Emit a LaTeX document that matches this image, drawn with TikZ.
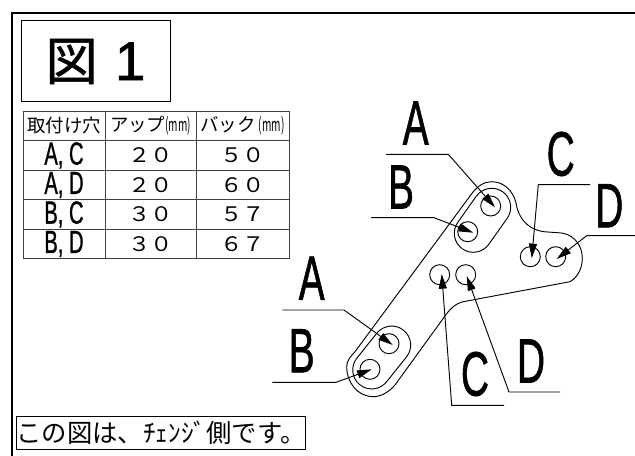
\documentclass[tikz,border=0pt]{standalone}
\usepackage{fontspec}
\usetikzlibrary{arrows.meta,shapes.misc}
\setmainfont{Liberation Sans}
\newfontfamily\jp{Noto Sans CJK JP}
\newfontfamily\jpf[FakeBold=1.2]{Noto Sans CJK JP}
\newfontfamily\lat{Liberation Sans}
\newfontfamily\latf[FakeBold=1.2]{Liberation Sans}
\newcommand{\narrow}[2]{\scalebox{#1}[1]{#2}}
\tikzset{
  x=0.75pt,y=-0.75pt,
  cell/.style={draw=black!75,line width=0.75pt,inner sep=0,minimum height=22.2pt,anchor=center},
  cola/.style={cell,minimum width=61.5pt},
  colb/.style={cell,minimum width=68.25pt},
  colc/.style={cell,minimum width=69.75pt},
  head/.style={font=\jp\fontsize{13.8pt}{14pt}\selectfont},
  pair/.style={font=\latf\fontsize{24pt}{26pt}\selectfont},
  num/.style={font=\jp\fontsize{15pt}{16pt}\selectfont},
  biglet/.style={inner sep=0,font=\latf\fontsize{47pt}{48pt}\selectfont},
  hole/.style={draw,circle,line width=0.7pt,minimum size=15pt,inner sep=0},
  part/.style={line width=0.7pt},
  slot/.style={draw,rounded rectangle,line width=0.7pt,minimum width=52.4pt,minimum height=28.5pt,inner sep=0},
  leader/.style={line width=0.7pt,-{Triangle[length=11pt,width=6pt]}},
}
\begin{document}
\begin{tikzpicture}
\useasboundingbox (0,0) rectangle (635,456);
\fill[white] (0,0) rectangle (635,456);
% frame
\coordinate (f1) at (635,13); \coordinate (f2) at (12,13); \coordinate (f3) at (12,456);
\draw[line width=1.5pt] (f1) -- (f2) -- (f3);
% title
\node[draw,line width=0.75pt,minimum width=111.75pt,minimum height=60.75pt,inner sep=0,
  font=\jpf\fontsize{39pt}{41pt}\selectfont] (title) at (95.5,61.5) {図\hspace{13pt}{\latf\fontsize{41pt}{41pt}\selectfont 1}\hspace{5pt}};
% table
\node[cola,head] (h1) at (64,126) {取付け穴};
\node[colb,head] (h2) at (150.5,126) {アップ\narrow{.55}{(mm)}};
\node[colc,head] (h3) at (242.5,126) {バック\,\narrow{.55}{(mm)}};
\node[cola,pair] (r1a) at (64,155.5) {\narrow{.63}{A, C}};
\node[colb,num] (r1b) at (150.5,155.5) {\narrow{1.12}{２０}};
\node[colc,num] (r1c) at (242.5,155.5) {\narrow{1.12}{５０}};
\node[cola,pair] (r2a) at (64,185) {\narrow{.63}{A, D}};
\node[colb,num] (r2b) at (150.5,185) {\narrow{1.12}{２０}};
\node[colc,num] (r2c) at (242.5,185) {\narrow{1.12}{６０}};
\node[cola,pair] (r3a) at (64,214.5) {\narrow{.63}{B, C}};
\node[colb,num] (r3b) at (150.5,214.5) {\narrow{1.12}{３０}};
\node[colc,num] (r3c) at (242.5,214.5) {\narrow{1.12}{５７}};
\node[cola,pair] (r4a) at (64,244) {\narrow{.63}{B, D}};
\node[colb,num] (r4b) at (150.5,244) {\narrow{1.12}{３０}};
\node[colc,num] (r4c) at (242.5,244) {\narrow{1.12}{６７}};
% note
\node[draw,line width=0.75pt,minimum width=216pt,minimum height=24.5pt,inner sep=0,
  font=\jp\fontsize{19pt}{20pt}\selectfont] (note) at (161,433) {この図は、ﾁｪﾝｼﾞ側です。};
% plate outline
\draw[part] (355,351.7) -- (470,196)
  .. controls (477,186) and (484,181.7) .. (491.7,181.7)
  .. controls (503,181.7) and (513,190) .. (516,203)
  .. controls (519,222) and (532,231.7) .. (548,232)
  .. controls (553,232.5) and (558,232.5) .. (563.3,233.3)
  .. controls (575,236) and (582.3,246) .. (582.3,258.3)
  .. controls (582.3,268) and (578,277) .. (570,281.7)
  -- (463.3,301.7)
  .. controls (455,303.5) and (449,310) .. (443.3,318.3)
  -- (395,385)
  .. controls (389,392) and (381,396.7) .. (373.3,396.7)
  .. controls (358,396.7) and (346.7,383) .. (346.7,366.7)
  .. controls (346.7,361) and (350,357) .. (355,351.7) -- cycle;
% slots
\node[slot,rotate=54.7] (slotu) at (482.5,220.3) {};
\node[slot,rotate=51.3] (slotl) at (381.7,357.5) {};
% holes
\node[hole] (ha) at (490.7,206) {};
\node[hole] (hb) at (467.7,231.7) {};
\node[hole] (hc) at (530.3,256.7) {};
\node[hole] (hd) at (555.7,256.7) {};
\node[hole] (lc) at (439.7,274.7) {};
\node[hole] (ld) at (465.7,274.7) {};
\node[hole] (la) at (389,343.7) {};
\node[hole] (lb) at (370,369.3) {};
% letters
\node[biglet] (ta) at (415.7,123) {\narrow{.62}{A}};
\node[biglet] (tb) at (401,187) {\narrow{.62}{B}};
\node[biglet] (tc) at (560.7,154) {\narrow{.62}{C}};
\node[biglet] (td) at (609.3,205.7) {\narrow{.62}{D}};
\node[biglet] (ma) at (311.7,278.3) {\narrow{.62}{A}};
\node[biglet] (mb) at (301.7,350.7) {\narrow{.62}{B}};
\node[biglet] (mc) at (475,374) {\narrow{.62}{C}};
\node[biglet] (md) at (531,361) {\narrow{.62}{D}};
% leaders
\coordinate (a0) at (386,154.3); \coordinate (a1) at (448.3,154.3); \coordinate (a2) at (495,207.3);
\coordinate (b0) at (371,217.7); \coordinate (b1) at (434,217.7); \coordinate (b2) at (473.3,232.7);
\coordinate (c0) at (590,184.7); \coordinate (c1) at (538.3,184.7); \coordinate (c2) at (531.7,258.3);
\coordinate (d0) at (635,235.7); \coordinate (d1) at (586.7,235.7); \coordinate (d2) at (556.7,259);
\coordinate (e0) at (282.3,310); \coordinate (e1) at (344,310); \coordinate (e2) at (392.7,345);
\coordinate (g0) at (272.3,382.3); \coordinate (g1) at (336,382.3); \coordinate (g2) at (371.7,369.3);
\coordinate (i0) at (504,405.3); \coordinate (i1) at (451.7,405.3); \coordinate (i2) at (441.7,274);
\coordinate (j0) at (560,392); \coordinate (j1) at (509,392); \coordinate (j2) at (466.7,276);
\draw[leader] (a0) -- (a1) -- (a2);
\draw[leader] (b0) -- (b1) -- (b2);
\draw[leader] (c0) -- (c1) -- (c2);
\draw[leader] (d0) -- (d1) -- (d2);
\draw[leader] (e0) -- (e1) -- (e2);
\draw[leader] (g0) -- (g1) -- (g2);
\draw[leader] (i0) -- (i1) -- (i2);
\draw[leader] (j0) -- (j1) -- (j2);
\end{tikzpicture}
\end{document}
